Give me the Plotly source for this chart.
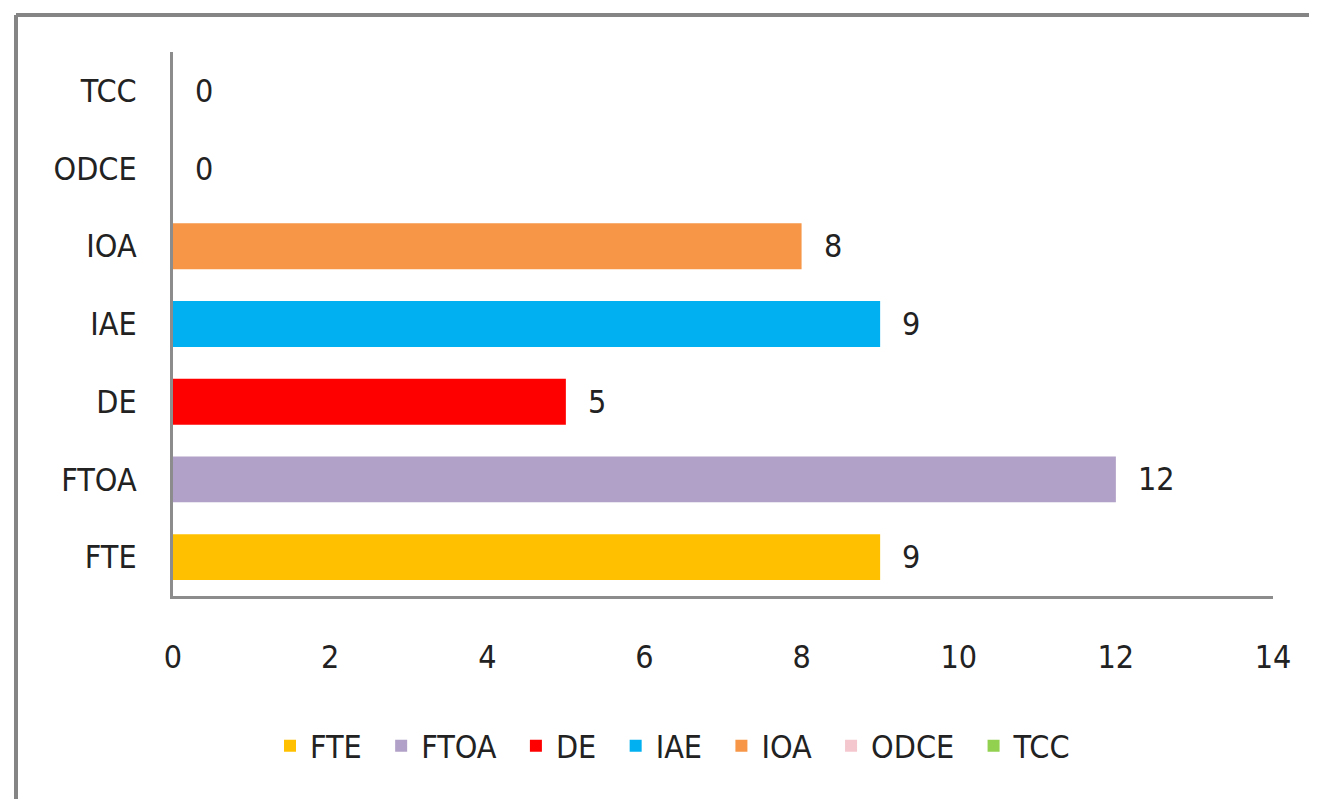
import plotly.graph_objects as go

categories = ["FTE", "FTOA", "DE", "IAE", "IOA", "ODCE", "TCC"]
values = [9, 12, 5, 9, 8, 0, 0]
colors = ["#FFC000", "#B1A0C7", "#FF0000", "#00B0F0", "#F79646", "#F4C7CE", "#92D050"]
x_ticks = [0, 2, 4, 6, 8, 10, 12, 14]

FONT = "Liberation Sans Narrow, Arial Narrow, DejaVu Sans Condensed, sans-serif"
OFF = 8  # default body margin of the html page
W, H = 1317 - OFF, 799 - OFF
# page-pixel positions of the plot area
PL, PR, PT, PB = 173, 1273, 52, 596
ML, MT = PL - OFF, PT - OFF
MR, MB = W - (PR - OFF), H - (PB - OFF)
pw, ph = PR - PL, PB - PT


def px_x(px):
    return (px - PL) / pw


def px_y(py):
    return (PB - py) / ph


fig = go.Figure()
for cat, val, col in zip(categories, values, colors):
    fig.add_trace(go.Bar(
        y=[cat], x=[val], orientation="h", name=cat + "\u2002",
        marker=dict(color=col, line=dict(width=0)),
        hovertemplate=cat + ": %{x}<extra></extra>",
    ))
    fig.add_annotation(
        x=val, y=cat, xref="x", yref="y", text=str(val),
        showarrow=False, xanchor="left", yanchor="middle", xshift=20,
        font=dict(family=FONT, size=32, color="#222222"),
    )

# outer frame (top and left edges visible)
fig.add_shape(type="line", xref="paper", yref="paper",
              x0=px_x(16), x1=px_x(1340), y0=px_y(15), y1=px_y(15),
              line=dict(color="#858585", width=4))
fig.add_shape(type="line", xref="paper", yref="paper",
              x0=px_x(16), x1=px_x(16), y0=px_y(15), y1=px_y(820),
              line=dict(color="#858585", width=4))

fig.update_layout(
    width=W, height=H,
    margin=dict(l=ML, r=MR, t=MT, b=MB),
    paper_bgcolor="white", plot_bgcolor="white",
    barmode="overlay", bargap=0.41,
    font=dict(family=FONT, size=32, color="#222222"),
    showlegend=True,
    legend=dict(orientation="h", x=px_x(680), xanchor="center", y=px_y(746), yanchor="middle",
                font=dict(family=FONT, size=32, color="#222222"),
                itemwidth=30, traceorder="normal", itemclick=False),
    xaxis=dict(range=[0, 14], tickvals=x_ticks, ticktext=[str(t) for t in x_ticks],
               showgrid=False, zeroline=False, showline=True, linecolor="#8C8C8C",
               linewidth=3, ticks="", ticklabelstandoff=31,
               tickfont=dict(family=FONT, size=32, color="#222222")),
    yaxis=dict(categoryorder="array", categoryarray=categories, type="category",
               showgrid=False, zeroline=False, showline=True, linecolor="#8C8C8C",
               linewidth=3, ticks="", ticklabelstandoff=27,
               tickfont=dict(family=FONT, size=32, color="#222222")),
)

fig.write_html("out.html")
